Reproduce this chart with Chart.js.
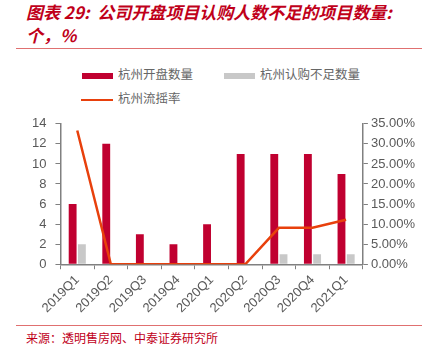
<!DOCTYPE html>
<html>
<head>
<meta charset="utf-8">
<script src="https://cdn.jsdelivr.net/npm/chart.js@4/dist/chart.umd.min.js"></script>
<style>
  body { margin: 0; background: #fff; font-family: "Noto Sans CJK SC", sans-serif; }
  #wrap { position: relative; width: 428px; height: 350px; overflow: hidden; }
  .title { position: absolute; left: 26px; top: 0px; color: #C0001A; font-size: 17px; font-weight: bold; font-style: italic; line-height: 23px; }
  .rule { position: absolute; left: 16px; width: 406px; height: 1px; background: #E07070; }
  .legend { position: absolute; font-size: 12.5px; color: #666; }
  .legend .item { position: absolute; white-space: nowrap; }
  .legend .sw { display: inline-block; vertical-align: middle; margin-right: 5px; }
  .source { position: absolute; left: 26px; top: 329px; color: #C0001A; font-size: 12px; }
  #box { position: absolute; left: 0; top: 107px; width: 428px; height: 212px; }
</style>
</head>
<body>
<div id="wrap">
  <div class="title">图表 29:&nbsp; 公司开盘项目认购人数不足的项目数量:<br>个，%</div>
  <div class="rule" style="top:48px"></div>
  <div class="legend" id="legend"></div>
  <div id="box"><canvas id="c"></canvas></div>
  <div class="rule" style="top:325px"></div>
  <div class="source">来源：透明售房网、中泰证券研究所</div>
</div>
<script>
const quarters = ["2019Q1", "2019Q2", "2019Q3", "2019Q4", "2020Q1", "2020Q2", "2020Q3", "2020Q4", "2021Q1"];
const openCount = [6, 12, 3, 2, 4, 11, 11, 11, 9];
const shortCount = [2, 0, 0, 0, 0, 0, 1, 1, 1];
const flowRate = [33.33, 0, 0, 0, 0, 0, 9.09, 9.09, 11.11];

const names = ["杭州开盘数量", "杭州认购不足数量", "杭州流摇率"];
const colors = ["#C00030", "#C8C8C8", "#E8400C"];

// legend (html so it can be laid out in two rows like the source)
const legendPos = [[82, 64, "bar"], [224, 64, "bar"], [81, 88, "line"]];
const lg = document.getElementById("legend");
names.forEach((n, i) => {
  const [x, y, kind] = legendPos[i];
  const d = document.createElement("div");
  d.className = "item";
  d.style.left = x + "px";
  d.style.top = y + "px";
  const sw = kind === "bar"
    ? `<span class="sw" style="width:31px;height:6px;background:${colors[i]}"></span>`
    : `<span class="sw" style="width:32px;height:2px;background:${colors[i]}"></span>`;
  d.innerHTML = sw + n;
  lg.appendChild(d);
});

const tickFont = { family: "Liberation Sans, Arial, sans-serif", size: 13 };
const axisGrey = "#808080";

new Chart(document.getElementById("c"), {
  type: "bar",
  data: {
    labels: quarters,
    datasets: [
      { type: "line", label: names[2], data: flowRate, yAxisID: "y1", borderColor: colors[2],
        borderWidth: 2.5, pointRadius: 0, tension: 0, order: 0 },
      { label: names[0], data: openCount, yAxisID: "y", backgroundColor: colors[0],
        categoryPercentage: 0.55, barPercentage: 0.85, order: 1 },
      { label: names[1], data: shortCount, yAxisID: "y", backgroundColor: colors[1],
        categoryPercentage: 0.55, barPercentage: 0.85, order: 1 }
    ]
  },
  options: {
    responsive: true,
    maintainAspectRatio: false,
    animation: false,
    layout: { padding: { left: 23, right: 10, top: 14, bottom: 0 } },
    plugins: { legend: { display: false }, tooltip: { enabled: false } },
    scales: {
      x: {
        grid: { display: true, drawOnChartArea: false, drawTicks: true, tickLength: 5, color: axisGrey },
        border: { color: axisGrey, width: 1.5 },
        ticks: { color: "#595959", font: tickFont, maxRotation: 45, minRotation: 45, padding: 3 }
      },
      y: {
        position: "left", min: 0, max: 14,
        grid: { drawOnChartArea: false, drawTicks: true, tickLength: 5, color: axisGrey },
        border: { color: axisGrey, width: 1.5 },
        ticks: { stepSize: 2, color: "#595959", font: tickFont, padding: 9 }
      },
      y1: {
        position: "right", min: 0, max: 35,
        grid: { drawOnChartArea: false, drawTicks: true, tickLength: 5, color: axisGrey },
        border: { color: axisGrey, width: 1.5 },
        ticks: { stepSize: 5, color: "#595959", font: tickFont, padding: 3,
          callback: v => v.toFixed(2) + "%" }
      }
    }
  }
});
</script>
</body>
</html>
